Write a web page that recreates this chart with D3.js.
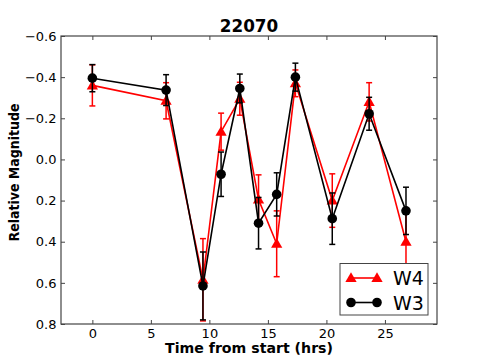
<!DOCTYPE html>
<html><head><meta charset="utf-8">
<script src="https://cdn.jsdelivr.net/npm/d3@7/dist/d3.min.js"></script>
<style>body{margin:0;background:#fff}svg{display:block}text{font-family:"DejaVu Sans",sans-serif}</style>
</head><body>
<svg id="c" width="485" height="360"></svg>
<script>
const title = "22070";
const xLabel = "Time from start (hrs)";
const yLabel = "Relative Magnitude";
const times = [0, 6.3, 9.45, 11.0, 12.6, 14.2, 15.75, 17.35, 20.5, 23.65, 26.8];
const w4Values = [-0.36, -0.285, 0.585, -0.135, -0.295, 0.195, 0.41, -0.37, 0.2, -0.28, 0.4];
const w4Errors = [0.10, 0.088, 0.20, 0.09, 0.08, 0.12, 0.16, 0.065, 0.13, 0.093, 0.15];
const w3Values = [-0.395, -0.337, 0.615, 0.072, -0.345, 0.31, 0.17, -0.4, 0.288, -0.222, 0.25];
const w3Errors = [0.066, 0.075, 0.165, 0.108, 0.07, 0.125, 0.105, 0.068, 0.125, 0.08, 0.115];
const xTicks = [0, 5, 10, 15, 20, 25];
const yTicks = [-0.6, -0.4, -0.2, 0.0, 0.2, 0.4, 0.6, 0.8];
const seriesNames = ["W4", "W3"];
const seriesColors = ["#ff0000", "#000000"];

const svg = d3.select("#c");
const L = 61, R = 437, T = 36, B = 324;
const x = d3.scaleLinear().domain([-2.68, 29.45]).range([L, R]);
const y = d3.scaleLinear().domain([-0.6, 0.8]).range([T, B]);
const fmt = v => (v < 0 ? "\u2212" : "") + Math.abs(v).toFixed(1);

// axes with inward ticks
const axG = svg.append("g");
axG.append("g").attr("transform", `translate(0,${B})`)
  .call(d3.axisBottom(x).tickValues(xTicks).tickSize(-4).tickPadding(4.5).tickFormat(d3.format("d")));
axG.append("g").attr("transform", `translate(0,${T})`)
  .call(d3.axisTop(x).tickValues(xTicks).tickSize(-4).tickFormat(""));
axG.append("g").attr("transform", `translate(${L},0)`)
  .call(d3.axisLeft(y).tickValues(yTicks).tickSize(-4).tickPadding(4.5).tickFormat(fmt));
axG.append("g").attr("transform", `translate(${R},0)`)
  .call(d3.axisRight(y).tickValues(yTicks).tickSize(-4).tickFormat(""));
axG.selectAll(".domain").remove();
axG.selectAll(".tick line").attr("stroke", "#444").attr("stroke-width", 1);
axG.selectAll(".tick text").attr("font-size", 13).attr("fill", "#000").attr("font-family", "DejaVu Sans");
svg.append("rect").attr("x", L).attr("y", T).attr("width", R - L).attr("height", B - T)
  .attr("fill", "none").attr("stroke", "#444").attr("stroke-width", 1.2);

// series
const series = [
  {name: seriesNames[0], color: seriesColors[0], vals: w4Values, errs: w4Errors, marker: "tri"},
  {name: seriesNames[1], color: seriesColors[1], vals: w3Values, errs: w3Errors, marker: "circ"}
];
const line = d3.line().x(d => x(d[0])).y(d => y(d[1]));
const triSym = d3.symbol().type(d3.symbolTriangle).size(55);
function drawMarker(g, m, cx, cy, color) {
  if (m === "circ") g.append("circle").attr("cx", cx).attr("cy", cy).attr("r", 4.8).attr("fill", color);
  else g.append("path").attr("d", triSym()).attr("transform", `translate(${cx},${cy + 0.8})`).attr("fill", color);
}
series.forEach(s => {
  const g = svg.append("g");
  const pts = times.map((t, i) => [t, s.vals[i], s.errs[i]]);
  pts.forEach(p => {
    const cx = x(p[0]), y1 = y(p[1] - p[2]), y2 = y(p[1] + p[2]);
    g.append("line").attr("x1", cx).attr("x2", cx).attr("y1", y1).attr("y2", y2)
      .attr("stroke", s.color).attr("stroke-width", 1.5);
    [y1, y2].forEach(yy => g.append("line").attr("x1", cx - 3).attr("x2", cx + 3).attr("y1", yy).attr("y2", yy)
      .attr("stroke", s.color).attr("stroke-width", 1.5));
  });
  g.append("path").datum(pts).attr("d", line).attr("fill", "none")
    .attr("stroke", s.color).attr("stroke-width", 1.6);
  pts.forEach(p => drawMarker(g, s.marker, x(p[0]), y(p[1]), s.color));
});

// title and labels
svg.append("text").attr("x", (L + R) / 2).attr("y", 31.5).attr("text-anchor", "middle")
  .attr("font-size", 16.8).attr("font-weight", "bold").text(title);
svg.append("text").attr("x", 249).attr("y", 353.3).attr("text-anchor", "middle")
  .attr("font-size", 14).attr("font-weight", "bold")
  .attr("textLength", 168).attr("lengthAdjust", "spacingAndGlyphs").text(xLabel);
svg.append("text").attr("transform", `translate(19,172.5) rotate(-90)`).attr("text-anchor", "middle")
  .attr("font-size", 14).attr("font-weight", "bold")
  .attr("textLength", 138).attr("lengthAdjust", "spacingAndGlyphs").text(yLabel);

// legend
const lg = svg.append("g");
lg.append("rect").attr("x", 340).attr("y", 263.5).attr("width", 88).attr("height", 51.5)
  .attr("fill", "#fff").attr("stroke", "#444").attr("stroke-width", 1);
series.forEach((s, i) => {
  const ly = 278 + i * 24.5;
  lg.append("line").attr("x1", 351).attr("x2", 377).attr("y1", ly).attr("y2", ly)
    .attr("stroke", s.color).attr("stroke-width", 1.6);
  drawMarker(lg, s.marker, 351, ly, s.color);
  drawMarker(lg, s.marker, 377, ly, s.color);
  lg.append("text").attr("x", 393).attr("y", ly + 7).attr("font-size", 19).text(s.name);
});
</script>
</body></html>
